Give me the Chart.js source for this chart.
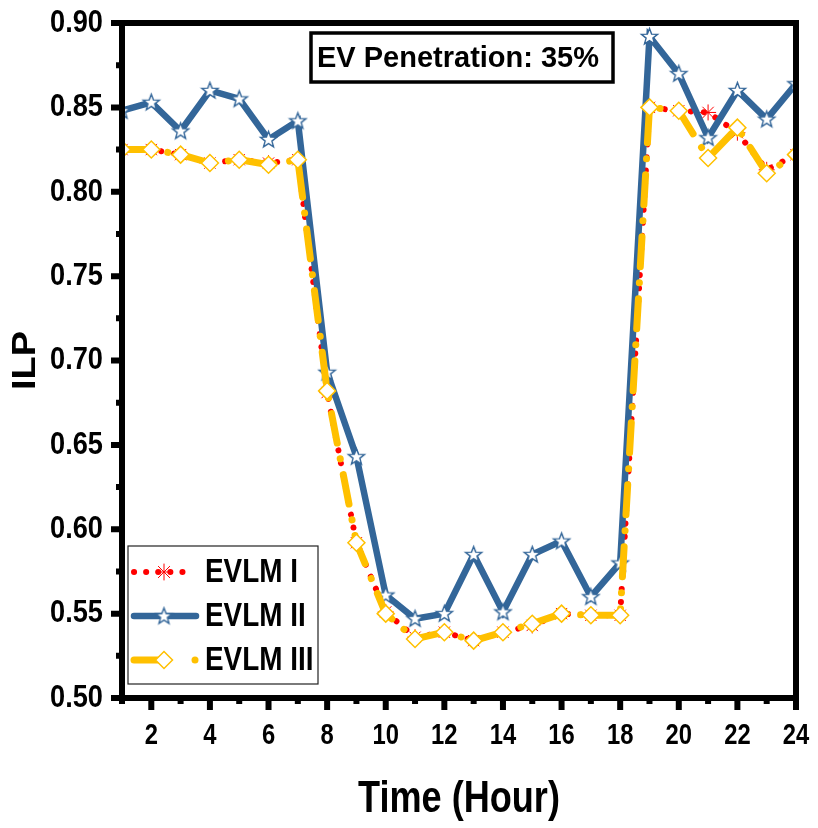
<!DOCTYPE html>
<html>
<head>
<meta charset="utf-8">
<script src="https://cdn.jsdelivr.net/npm/chart.js@4.4.1/dist/chart.umd.min.js"></script>
<style>
  html, body { margin: 0; padding: 0; background: #fff; }
  canvas { display: block; }
</style>
</head>
<body>
<canvas id="chart-ilp" width="818" height="828"></canvas>
<script>
// ILP per hour for the three EV load management schemes, 35% EV penetration.

const hours = [1, 2, 3, 4, 5, 6, 7, 8, 9, 10, 11, 12, 13, 14, 15, 16, 17, 18, 19, 20, 21, 22, 23, 24];

const evlm1 = [0.825, 0.825, 0.822, 0.817, 0.819, 0.817, 0.819, 0.681, 0.592, 0.551, 0.536, 0.539,
               0.534, 0.539, 0.543, 0.550, 0.549, 0.549, 0.850, 0.848, 0.847, 0.835, 0.813, 0.822];
const evlm2 = [0.848, 0.853, 0.836, 0.860, 0.855, 0.831, 0.842, 0.693, 0.643, 0.561, 0.547, 0.550,
               0.585, 0.551, 0.585, 0.593, 0.560, 0.580, 0.892, 0.870, 0.832, 0.860, 0.843, 0.864];
const evlm3 = [0.825, 0.825, 0.822, 0.817, 0.819, 0.816, 0.819, 0.682, 0.592, 0.550, 0.535, 0.539,
               0.534, 0.539, 0.544, 0.550, 0.549, 0.549, 0.850, 0.848, 0.820, 0.838, 0.811, 0.822];

const seriesNames = ["EVLM I", "EVLM II", "EVLM III"];
const xTicks = [2, 4, 6, 8, 10, 12, 14, 16, 18, 20, 22, 24];
const yTicks = [0.50, 0.55, 0.60, 0.65, 0.70, 0.75, 0.80, 0.85, 0.90];
const titleText = "EV Penetration: 35%";
const xTitle = "Time (Hour)";
const yTitle = "ILP";

// no narrow font installed, so squeeze Liberation Sans by hand
const FONT = "'Liberation Sans', Arial, sans-serif";

const RED = "#ff0000";
const BLUE = "#336699";
const GOLD = "#ffc000";

// five-point star marker (Chart.js only has the asterisk kind)
function makeStar(r, fill, stroke, lw) {
  const c = document.createElement("canvas");
  const s = Math.ceil(2 * r + lw + 2);
  c.width = c.height = s;
  const g = c.getContext("2d");
  g.translate(s / 2, s / 2 + 0.5);
  g.beginPath();
  for (let i = 0; i < 10; i++) {
    const rr = i % 2 ? r * 0.42 : r;
    const a = -Math.PI / 2 + i * Math.PI / 5;
    g.lineTo(rr * Math.cos(a), rr * Math.sin(a));
  }
  g.closePath();
  g.fillStyle = fill;
  g.fill();
  g.lineWidth = lw;
  g.strokeStyle = stroke;
  g.stroke();
  return c;
}
const starImg = makeStar(8.5, "#fff", BLUE, 1.4);

const toPoints = (vals) => hours.map((h, i) => ({ x: h, y: vals[i] }));

function squeezed(ctx, text, x, y, size, align, sx, rot) {
  ctx.save();
  ctx.translate(x, y);
  if (rot) ctx.rotate(rot);
  ctx.scale(sx, 1);
  ctx.font = "bold " + size + "px " + FONT;
  ctx.textAlign = align;
  ctx.textBaseline = "middle";
  ctx.fillStyle = "#000";
  ctx.fillText(text, 0, 0);
  ctx.restore();
}

// ---- frame, ticks, labels, title box and legend ------------------------

const decorPlugin = {
  id: "decor",
  afterDatasetsDraw(chart) {
    const { ctx, chartArea: a, scales: { x, y } } = chart;
    ctx.save();
    ctx.strokeStyle = "#000";
    ctx.lineWidth = 6;
    ctx.strokeRect(a.left, a.top, a.right - a.left, a.bottom - a.top);

    ctx.lineCap = "butt";
    ctx.beginPath();
    yTicks.forEach((v) => {
      const p = y.getPixelForValue(v);
      ctx.moveTo(a.left, p); ctx.lineTo(a.left - 11, p);
    });
    yTicks.slice(1).forEach((v) => {
      const p = y.getPixelForValue(v - 0.025);
      ctx.moveTo(a.left, p); ctx.lineTo(a.left - 6, p);
    });
    xTicks.forEach((v) => {
      const p = x.getPixelForValue(v);
      ctx.moveTo(p, a.bottom); ctx.lineTo(p, a.bottom + 12);
    });
    hours.filter((h) => h % 2 === 1).forEach((v) => {
      const p = x.getPixelForValue(v);
      ctx.moveTo(p, a.bottom); ctx.lineTo(p, a.bottom + 6);
    });
    ctx.stroke();

    // tick labels and axis titles
    yTicks.forEach((v) => squeezed(ctx, v.toFixed(2), a.left - 19, y.getPixelForValue(v), 32, "right", 0.85));
    xTicks.forEach((v) => squeezed(ctx, String(v), x.getPixelForValue(v), a.bottom + 38, 29, "center", 0.82));
    squeezed(ctx, xTitle, (a.left + a.right) / 2, 800, 44, "center", 0.82);
    squeezed(ctx, yTitle, 26, (a.top + a.bottom) / 2, 33, "center", 1.15, -Math.PI / 2);

    // title box
    ctx.lineWidth = 3.5;
    ctx.strokeRect(311, 33, 302, 49);
    ctx.fillStyle = "#000";
    ctx.font = "bold 29px " + FONT;
    ctx.textAlign = "left";
    ctx.textBaseline = "alphabetic";
    ctx.fillText(titleText, 317, 67);

    // legend
    ctx.lineWidth = 1.2;
    ctx.strokeStyle = "#222";
    ctx.strokeRect(128, 546, 190, 138);
    const rows = [572, 616, 660];

    // EVLM I
    ctx.save();
    ctx.strokeStyle = RED; ctx.lineWidth = 6; ctx.lineCap = "round";
    ctx.setLineDash([0.1, 12]);
    ctx.beginPath(); ctx.moveTo(134, rows[0]); ctx.lineTo(194, rows[0]); ctx.stroke();
    ctx.setLineDash([]); ctx.lineWidth = 1;
    ctx.beginPath();
    for (let k = 0; k < 4; k++) {
      const ang = k * Math.PI / 4;
      ctx.moveTo(164 - 8 * Math.cos(ang), rows[0] - 8 * Math.sin(ang));
      ctx.lineTo(164 + 8 * Math.cos(ang), rows[0] + 8 * Math.sin(ang));
    }
    ctx.stroke();
    ctx.restore();

    // EVLM II
    ctx.save();
    ctx.strokeStyle = BLUE; ctx.lineWidth = 6.5; ctx.lineCap = "round";
    ctx.beginPath(); ctx.moveTo(134, rows[1]); ctx.lineTo(196, rows[1]); ctx.stroke();
    ctx.drawImage(starImg, 164 - starImg.width / 2, rows[1] - starImg.height / 2);
    ctx.restore();

    // EVLM III
    ctx.save();
    ctx.strokeStyle = GOLD; ctx.lineWidth = 7; ctx.lineCap = "round";
    ctx.beginPath(); ctx.moveTo(134, rows[2]); ctx.lineTo(158, rows[2]); ctx.stroke();
    ctx.fillStyle = GOLD;
    ctx.beginPath(); ctx.arc(195, rows[2], 3.5, 0, Math.PI * 2); ctx.fill();
    ctx.beginPath();
    ctx.moveTo(164 - 8.5, rows[2]); ctx.lineTo(164, rows[2] - 8.5);
    ctx.lineTo(164 + 8.5, rows[2]); ctx.lineTo(164, rows[2] + 8.5); ctx.closePath();
    ctx.fillStyle = "#fff"; ctx.fill();
    ctx.lineWidth = 1.5; ctx.stroke();
    ctx.restore();

    seriesNames.forEach((n, i) => squeezed(ctx, n, 205, rows[i] + 1, 34, "left", 0.82));
    ctx.restore();
  },
};

new Chart(document.getElementById("chart-ilp"), {
  type: "line",
  data: {
    datasets: [
      {
        label: seriesNames[0],
        data: toPoints(evlm1),
        borderColor: RED,
        borderWidth: 6,
        borderDash: [0.1, 13],
        borderCapStyle: "round",
        pointStyle: "star",
        pointRadius: 8,
        pointBorderColor: RED,
        pointBackgroundColor: RED,
        pointBorderWidth: 1,
        order: 3,
      },
      {
        label: seriesNames[1],
        data: toPoints(evlm2),
        borderColor: BLUE,
        borderWidth: 6.5,
        pointStyle: starImg,
        pointRadius: 9,
        order: 2,
      },
      {
        label: seriesNames[2],
        data: toPoints(evlm3),
        borderColor: GOLD,
        borderWidth: 7,
        borderDash: [30, 16, 0.1, 16],
        borderCapStyle: "round",
        pointStyle: "rectRot",
        pointRadius: 8.5,
        pointBackgroundColor: "#fff",
        pointBorderColor: GOLD,
        pointBorderWidth: 1.5,
        order: 1,
      },
    ],
  },
  options: {
    responsive: false,
    animation: false,
    devicePixelRatio: 1,
    layout: { padding: { top: 23, right: 22, left: 0, bottom: 0 } },
    plugins: {
      legend: { display: false },
      tooltip: { enabled: false },
    },
    scales: {
      x: {
        type: "linear",
        min: 1,
        max: 24,
        afterBuildTicks: (s) => { s.ticks = xTicks.map((v) => ({ value: v })); },
        afterFit: (s) => { s.height = 130; },
        grid: { display: false, drawTicks: false },
        border: { display: false },
        ticks: { display: false },
      },
      y: {
        min: 0.5,
        max: 0.9,
        afterBuildTicks: (s) => { s.ticks = yTicks.map((v) => ({ value: v })); },
        afterFit: (s) => { s.width = 122; },
        grid: { display: false, drawTicks: false },
        border: { display: false },
        ticks: { display: false },
      },
    },
  },
  plugins: [decorPlugin],
});
</script>
</body>
</html>
